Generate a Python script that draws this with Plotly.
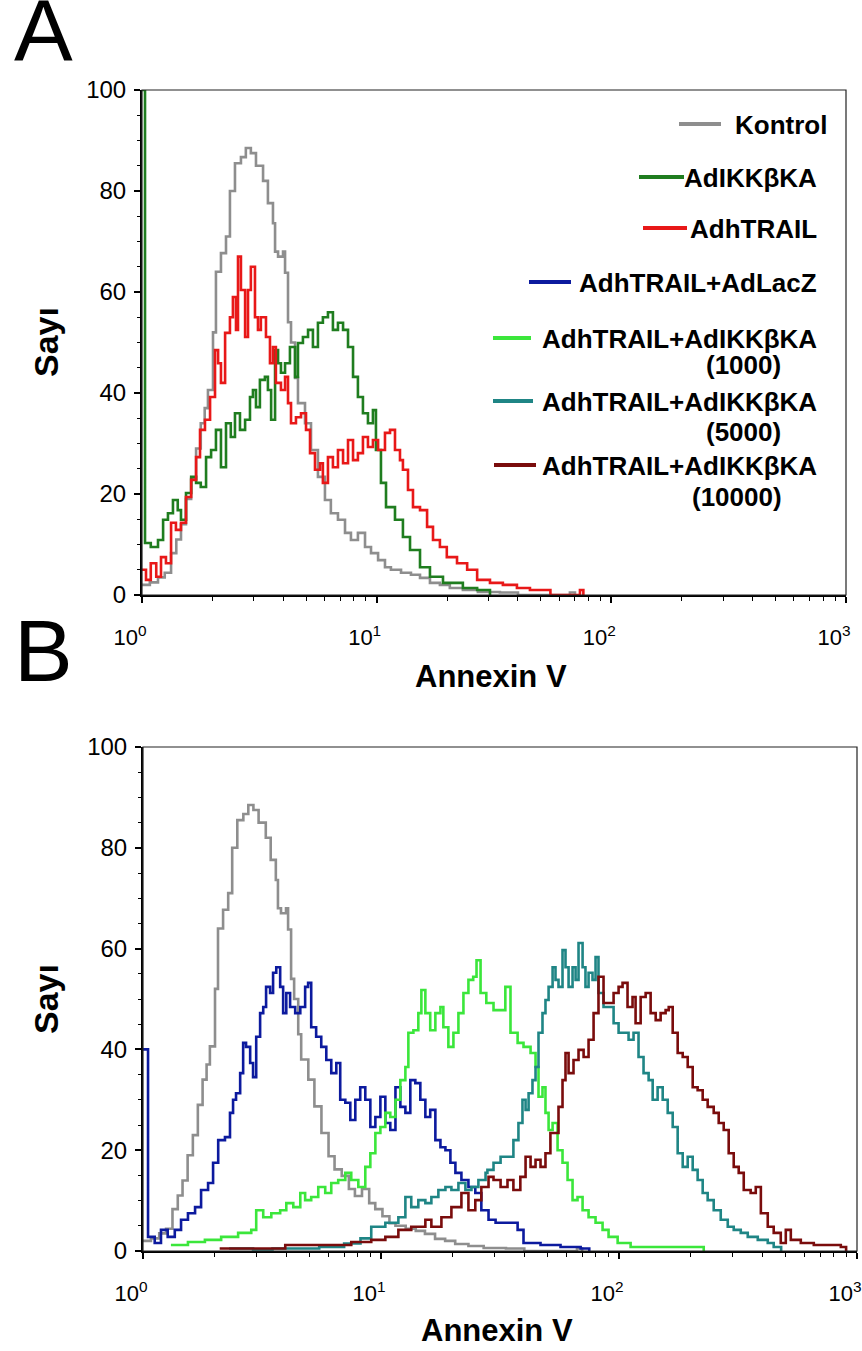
import plotly.graph_objects as go

W, H = 862, 1351
FONT = "Liberation Sans, Arial, Helvetica, sans-serif"

# ---------------- data (Annexin V intensity, cell count) ----------------
kontrol = [(1.0, 2.0), (1.08, 2.5), (1.17, 3.5), (1.25, 4.4), (1.33, 8.3), (1.40, 11), (1.466, 14),
           (1.54, 19), (1.62, 23), (1.70, 29), (1.78, 34), (1.85, 37), (1.91, 40.6), (2.007, 52),
           (2.066, 64), (2.17, 67.7), (2.28, 71), (2.37, 80), (2.49, 85.5), (2.64, 86.7), (2.77, 88.5),
           (2.91, 87.5), (3.06, 85), (3.28, 82), (3.44, 77.6), (3.615, 73.6), (3.69, 68), (3.80, 67),
           (3.99, 68), (4.07, 63.8), (4.19, 54), (4.315, 50), (4.49, 43), (4.62, 38), (4.95, 34),
           (5.25, 28.7), (5.62, 23.4), (6.02, 18.8), (6.38, 16.2), (6.84, 14.9), (7.33, 12.3),
           (7.77, 10.9), (8.32, 12.3), (8.92, 9.5), (9.46, 8.3), (10.14, 6.9), (10.85, 5.5), (11.5, 5),
           (12.7, 4.4), (14.0, 4), (15.3, 3.4), (16.87, 2.4), (18.6, 2.0), (20.5, 1.4), (23.3, 1),
           (27.0, 0.6), (33.5, 0.5), (40.0, 0), (66.6, 0.5), (70.0, 0)]

adikk_a = [(1.0, 100), (1.03, 10.3), (1.09, 9.5), (1.17, 10.9), (1.23, 14.9), (1.29, 16.2), (1.355, 18.8),
           (1.42, 16.8), (1.466, 14.9), (1.54, 20.2), (1.62, 23.4), (1.70, 22.2), (1.78, 21.4),
           (1.875, 27.3), (1.97, 28.7), (2.066, 32.7), (2.17, 25.3), (2.28, 34), (2.39, 31.3), (2.49, 36),
           (2.615, 32.7), (2.75, 34.7), (2.885, 39.2), (2.97, 40.6), (3.06, 37.2), (3.18, 42.6),
           (3.34, 43.2), (3.44, 40.6), (3.55, 34.7), (3.69, 48.5), (3.80, 45.9), (3.91, 44), (4.07, 45.9),
           (4.27, 49.1), (4.49, 43.2), (4.62, 49.9), (4.85, 51.1), (5.1, 52.5), (5.35, 49.1), (5.62, 53.9),
           (5.90, 55), (6.20, 56), (6.51, 52.5), (6.84, 53.9), (7.19, 52.5), (7.55, 49.1), (7.93, 43.2),
           (8.32, 39.2), (8.74, 36), (9.18, 34), (9.64, 36.6), (9.93, 28.7), (10.43, 22.2), (10.96, 17.4),
           (11.97, 14.9), (12.94, 11.5), (13.87, 8.9), (15.3, 5.5), (16.87, 3.6), (19.17, 2.4), (23.3, 1.4),
           (26.8, 1.0), (30.4, 0)]

adhtrail_a = [(1.0, 5), (1.04, 3), (1.09, 6.3), (1.15, 3.6), (1.205, 7.5), (1.265, 6.3), (1.33, 14.3),
              (1.395, 12.9), (1.466, 14.3), (1.54, 19.4), (1.62, 22.8), (1.70, 27.3), (1.767, 32.7),
              (1.855, 34.7), (1.95, 39.2), (2.047, 48.5), (2.11, 45.9), (2.17, 42), (2.26, 51.9), (2.37, 55),
              (2.44, 59), (2.515, 52.5), (2.565, 67), (2.64, 60.4), (2.75, 51.1), (2.83, 60.4), (2.91, 65),
              (3.03, 55), (3.12, 52.5), (3.21, 55), (3.375, 51.1), (3.51, 45.9), (3.615, 49.1), (3.72, 42),
              (3.91, 40.6), (4.07, 43.2), (4.19, 38), (4.315, 34), (4.53, 35.2), (4.76, 36), (5.0, 32.7),
              (5.2, 28.1), (5.46, 24.8), (5.735, 26.1), (5.90, 22.2), (6.20, 27.3), (6.51, 25.3), (6.84, 28.7),
              (7.19, 26.1), (7.55, 30.7), (7.93, 26.7), (8.32, 28.1), (8.74, 31.3), (9.18, 29.3), (9.64, 30.7),
              (10.14, 28.7), (10.85, 32.1), (11.4, 32.7), (11.97, 28.7), (12.57, 26.7), (12.94, 24.8),
              (13.6, 20.8), (14.28, 17.4), (15.3, 16.8), (16.4, 13.5), (17.38, 10.9), (18.6, 9.5), (19.9, 7.5),
              (22.0, 6.3), (24.3, 5), (26.8, 3), (30.4, 2.4), (34.5, 2), (39.6, 1.4), (45.0, 1), (51.1, 1),
              (55.0, 0), (73.5, 1), (76.0, 0)]

lacz_b = [(1.0, 40), (1.05, 2.8), (1.12, 1.6), (1.19, 4.2), (1.27, 2.8), (1.36, 4.2), (1.445, 6.2),
          (1.545, 7.5), (1.655, 8.7), (1.754, 12.1), (1.877, 13.5), (1.97, 17.5), (2.07, 22), (2.21, 22.6),
          (2.32, 27.4), (2.39, 30), (2.46, 31.3), (2.56, 35.3), (2.635, 41.3), (2.71, 40.5), (2.82, 37.3),
          (2.90, 34.5), (2.99, 42.5), (3.105, 47.2), (3.20, 48.4), (3.29, 52.4), (3.42, 51.2), (3.52, 55.2),
          (3.63, 56.3), (3.77, 52.4), (3.88, 47.2), (4.0, 51.2), (4.15, 48.4), (4.36, 47.2), (4.58, 48.4),
          (4.80, 52.4), (4.94, 53.2), (5.09, 44.4), (5.34, 42.5), (5.61, 40.5), (5.89, 37.9), (6.18, 35.3),
          (6.49, 37.3), (6.74, 30), (7.08, 29.4), (7.43, 26), (7.80, 30), (8.18, 32.5), (8.59, 30),
          (9.02, 24.6), (9.47, 26.6), (9.94, 30.6), (10.43, 25.4), (10.94, 24), (11.5, 32.5), (12.06, 28.6),
          (12.66, 27.4), (13.28, 33.9), (13.94, 33.3), (14.63, 30), (15.36, 26.6), (16.1, 28), (16.92, 22),
          (17.77, 20.6), (18.65, 20), (19.57, 17.5), (20.54, 15.5), (21.77, 14.1), (23.3, 12.7),
          (24.9, 11.5), (26.4, 8.1), (28.3, 6.2), (30.3, 5.6), (34.0, 5.6), (37.5, 4.2), (39.7, 1.6),
          (46.8, 1.2), (56.8, 0.8), (69.0, 0.5), (75.0, 0)]

ikk1000_b = [(1.31, 1.2), (1.545, 1.8), (1.82, 2.2), (2.13, 2.8), (2.51, 3.6), (2.85, 4.2), (2.99, 8.1),
             (3.20, 6.7), (3.46, 7.5), (3.77, 8.1), (4.0, 9.5), (4.28, 8.7), (4.58, 11.5), (4.80, 10.1),
             (5.09, 10.7), (5.45, 12.7), (5.83, 11.5), (6.18, 13.5), (6.61, 14.1), (7.08, 15.5), (7.50, 14.1),
             (8.03, 12.7), (8.59, 16.7), (9.02, 19.4), (9.47, 23.4), (9.94, 24.6), (10.43, 27.4),
             (10.94, 26.6), (11.5, 30), (12.06, 33.9), (12.66, 36.5), (13.03, 43.3), (13.68, 43.8),
             (14.35, 47.2), (14.78, 51.8), (15.36, 47.2), (16.1, 43.8), (16.92, 47.2), (17.77, 48.4),
             (18.28, 44.4), (19.19, 40.5), (20.15, 43.3), (21.15, 47.2), (22.2, 51.2), (23.3, 53.8),
             (24.4, 54.4), (25.2, 57.7), (26.2, 51.2), (27.7, 49.2), (29.7, 47.8), (31.8, 47.8), (33.3, 52.4),
             (35.0, 43.3), (37.5, 41.3), (39.7, 40.5), (42.5, 39.3), (44.6, 36.5), (45.9, 30.6), (47.7, 32.5),
             (49.1, 27.4), (50.6, 24), (52.6, 25.4), (55.2, 20), (57.9, 17.5), (60.8, 14.1), (63.8, 10.1),
             (66.95, 10.7), (70.3, 8.1), (74.5, 6.7), (79.7, 5.6), (85.3, 4.2), (90.4, 2.8), (98.7, 1.6),
             (111.9, 0.8), (139.9, 0.8), (181.6, 0.8), (227.0, 0)]

ikk5000_b = [(2.3, 0.5), (2.9, 0.3), (3.5, 0.5), (5.5, 0.8), (7.0, 1.5), (8.2, 2.5), (9.1, 4.8), (10.43, 5.6),
             (11.83, 6.7), (12.66, 10.7), (13.4, 8.7), (14.35, 10.1), (15.36, 9.5), (16.28, 10.7),
             (17.42, 12.1), (18.65, 12.7), (19.76, 12.1), (21.15, 13.5), (22.63, 12.1), (23.99, 12.7),
             (25.66, 14.1), (27.5, 15.5), (28.0, 16.1), (29.7, 17.5), (31.8, 18.7), (34.0, 18.7), (36.0, 22),
             (37.8, 25.4), (39.3, 30), (40.5, 28), (41.7, 31.3), (43.3, 33.9), (44.6, 36.5), (45.9, 43.3),
             (47.7, 47.2), (49.1, 49.8), (50.6, 52.4), (52.6, 56.3), (54.1, 53.8), (55.7, 52.4), (57.9, 59.7),
             (59.6, 56.3), (61.4, 52.4), (63.8, 56.3), (65.7, 53.8), (67.6, 61.1), (70.3, 56.3), (72.3, 52.4),
             (74.5, 55.2), (77.4, 53.8), (79.7, 58.3), (82.0, 51.2), (86.1, 48.4), (90.4, 48.4), (94.9, 45.2),
             (99.6, 43.3), (104.5, 43.3), (109.7, 41.9), (115.1, 43.3), (120.8, 38.5), (126.8, 35.3),
             (133.2, 33.9), (138.5, 30), (145.3, 32.5), (152.6, 30), (160.2, 27.4), (168.1, 24.6),
             (176.4, 19.4), (185.2, 16.7), (194.4, 18.7), (204.0, 16.1), (214.0, 14.1), (224.7, 11.5),
             (235.8, 10.1), (250.0, 8.1), (267.6, 6.2), (286.4, 4.8), (303.4, 4.2), (324.8, 3.6),
             (347.5, 2.8), (382.9, 2.2), (421.7, 1.6), (446.7, 0.8), (480.0, 0)]

ikk10000_b = [(2.1, 0.5), (3.96, 1.2), (5.83, 1.2), (7.50, 1.8), (9.10, 2.2), (10.43, 2.8), (11.83, 4.2),
              (13.4, 4.8), (15.36, 6.2), (16.28, 4.8), (17.94, 6.7), (19.76, 8.7), (21.77, 11.5), (23.3, 8.1),
              (24.9, 10.1), (26.4, 12.7), (28.3, 14.7), (29.7, 14.1), (31.8, 12.7), (34.0, 14.1), (36.0, 12.1),
              (38.5, 14.7), (40.5, 18.7), (42.5, 16.7), (44.6, 18.1), (46.8, 16.7), (49.1, 19.4), (51.5, 23.4),
              (54.1, 23.4), (55.7, 28.6), (57.9, 33.9), (59.6, 39.3), (61.4, 35.3), (64.4, 37.9), (67.6, 39.9),
              (71.0, 38.5), (74.5, 41.9), (78.2, 47.2), (82.0, 54.4), (86.1, 49.2), (90.4, 49.2), (94.9, 51.2),
              (99.6, 52.4), (103.5, 53.2), (108.6, 48.4), (114.0, 50.4), (117.4, 45.2), (123.3, 50.4),
              (129.4, 51.2), (135.8, 47.2), (142.6, 45.8), (149.6, 47.2), (157.0, 47.8), (161.8, 48.4),
              (168.1, 43.3), (176.4, 39.3), (185.2, 38.5), (194.4, 36.5), (204.0, 32.5), (214.0, 31.9),
              (224.7, 30), (235.8, 28.6), (250.0, 27.4), (262.4, 25.4), (275.4, 24), (289.0, 19.4),
              (303.4, 16.7), (318.4, 15.5), (334.3, 12.1), (357.4, 11.5), (375.5, 12.7), (394.5, 7.5),
              (421.7, 4.8), (446.7, 3.6), (478.3, 1.6), (502.1, 4.2), (527.1, 2.2), (580.6, 1.6),
              (658.4, 1.2), (754.2, 1.2), (855.1, 0.8), (900.0, 0)]

series_names = ["Kontrol", "AdIKKβKA", "AdhTRAIL", "AdhTRAIL+AdLacZ",
                "AdhTRAIL+AdIKKβKA", "AdhTRAIL+AdIKKβKA", "AdhTRAIL+AdIKKβKA"]
series_doses = ["", "", "", "", "(1000)", "(5000)", "(10000)"]
series_colors = ["#8e8e8e", "#1f7d1f", "#e81818", "#0c1a9e", "#3be63b", "#1f8585", "#7a0c0c"]

x_tick_vals = [1, 10, 100, 1000]
x_tick_text = ["10<sup>0</sup>", "10<sup>1</sup>", "10<sup>2</sup>", "10<sup>3</sup>"]
y_tick_vals = [0, 20, 40, 60, 80, 100]

# ---------------- figure ----------------
fig = go.Figure()


def add(pts, idx, xa, ya):
    fig.add_trace(go.Scatter(
        x=[p[0] for p in pts], y=[p[1] for p in pts], mode="lines",
        line=dict(color=series_colors[idx], width=2.6, shape="hv"),
        name=series_names[idx] + (" " + series_doses[idx] if series_doses[idx] else ""),
        xaxis=xa, yaxis=ya, showlegend=False, hoverinfo="skip"))


# Panel A
add(kontrol, 0, "x", "y")
add(adikk_a, 1, "x", "y")
add(adhtrail_a, 2, "x", "y")
# Panel B
add(kontrol, 0, "x2", "y2")
add(lacz_b, 3, "x2", "y2")
add(ikk1000_b, 4, "x2", "y2")
add(ikk5000_b, 5, "x2", "y2")
add(ikk10000_b, 6, "x2", "y2")

minor_x = [m * 10 ** d for d in range(3) for m in range(2, 10)]


def xaxis_cfg(domain, anchor):
    return dict(domain=domain, anchor=anchor, type="log", range=[0, 3], automargin=False,
                showline=True, linecolor="black", linewidth=2, mirror=False,
                ticks="outside", ticklen=6, tickwidth=1.5, tickcolor="black",
                tickmode="array", tickvals=x_tick_vals, ticktext=x_tick_text,
                tickfont=dict(family=FONT, size=22, color="black"),
                ticklabelstandoff=16, ticklabelshift=-12,
                minor=dict(tickmode="array", tickvals=minor_x, ticks="outside",
                           ticklen=4, tickwidth=1.2, tickcolor="black", showgrid=False),
                showgrid=False, zeroline=False, fixedrange=True)


def yaxis_cfg(domain, anchor):
    return dict(domain=domain, anchor=anchor, range=[0, 100], automargin=False,
                showline=True, linecolor="black", linewidth=2, mirror=False,
                ticks="outside", ticklen=6, tickwidth=1.5, tickcolor="black",
                tickmode="array", tickvals=y_tick_vals,
                tickfont=dict(family=FONT, size=24, color="black"),
                ticklabelstandoff=3,
                minor=dict(dtick=5, ticks="outside", ticklen=3, tickwidth=1,
                           tickcolor="black", showgrid=False),
                showgrid=False, zeroline=False, fixedrange=True)


def px(xp):
    return xp / W


def py(yp):
    return 1 - yp / H


fig.update_layout(
    width=W, height=H, margin=dict(l=0, r=0, t=0, b=0, autoexpand=False),
    paper_bgcolor="white", plot_bgcolor="white", showlegend=False,
    font=dict(family=FONT, color="black"),
    xaxis=xaxis_cfg([px(142), px(846)], "y"),
    yaxis=yaxis_cfg([py(595), py(90)], "x"),
    xaxis2=xaxis_cfg([px(143), px(857)], "y2"),
    yaxis2=yaxis_cfg([py(1251), py(747)], "x2"),
)

shapes = []
annotations = []

# plot frames (thin top/right border)
for xr, yr in (("x domain", "y domain"), ("x2 domain", "y2 domain")):
    shapes.append(dict(type="rect", xref=xr, yref=yr, x0=0, x1=1, y0=0, y1=1,
                       line=dict(color="#222222", width=1.2), layer="above"))

# panel letters
annotations.append(dict(text="A", x=px(43), y=py(30), xref="paper", yref="paper",
                        showarrow=False, xanchor="center", yanchor="middle",
                        font=dict(family=FONT, size=88, color="black")))
annotations.append(dict(text="B", x=px(43), y=py(651), xref="paper", yref="paper",
                        showarrow=False, xanchor="center", yanchor="middle",
                        font=dict(family=FONT, size=88, color="black")))

# axis titles
for ycen in (342, 999):
    annotations.append(dict(text="<b>Sayı</b>", x=px(46), y=py(ycen), xref="paper", yref="paper",
                            showarrow=False, textangle=-90, xanchor="center", yanchor="middle",
                            font=dict(family=FONT, size=34, color="black")))
for xcen, ycen in ((491, 677), (497, 1330)):
    annotations.append(dict(text="<b>Annexin V</b>", x=px(xcen), y=py(ycen), xref="paper", yref="paper",
                            showarrow=False, xanchor="center", yanchor="middle",
                            font=dict(family=FONT, size=31, color="black")))

# legend (panel A): text right edge, y centre, key line x0/x1, dose label centre
legend_layout = [
    (829, 124, 679, 721, None),
    (819, 177, 639, 684, None),
    (819, 228, 643, 687, None),
    (819, 282, 529, 571, None),
    (819, 338, 493, 531, (743, 364)),
    (819, 401, 493, 533, (743, 431)),
    (819, 465, 494, 536, (737, 496)),
]
for i, (tr, ty, lx0, lx1, dose_pos) in enumerate(legend_layout):
    shapes.append(dict(type="line", xref="paper", yref="paper",
                       x0=px(lx0), x1=px(lx1), y0=py(ty), y1=py(ty),
                       line=dict(color=series_colors[i], width=4)))
    annotations.append(dict(text="<b>" + series_names[i] + "</b>", x=px(tr), y=py(ty + 1),
                            xref="paper", yref="paper", showarrow=False,
                            xanchor="right", yanchor="middle",
                            font=dict(family=FONT, size=26, color="black")))
    if dose_pos:
        annotations.append(dict(text="<b>" + series_doses[i] + "</b>", x=px(dose_pos[0]),
                                y=py(dose_pos[1] + 1), xref="paper", yref="paper", showarrow=False,
                                xanchor="center", yanchor="middle",
                                font=dict(family=FONT, size=26, color="black")))

fig.update_layout(shapes=shapes, annotations=annotations)

fig.write_html("out.html")
